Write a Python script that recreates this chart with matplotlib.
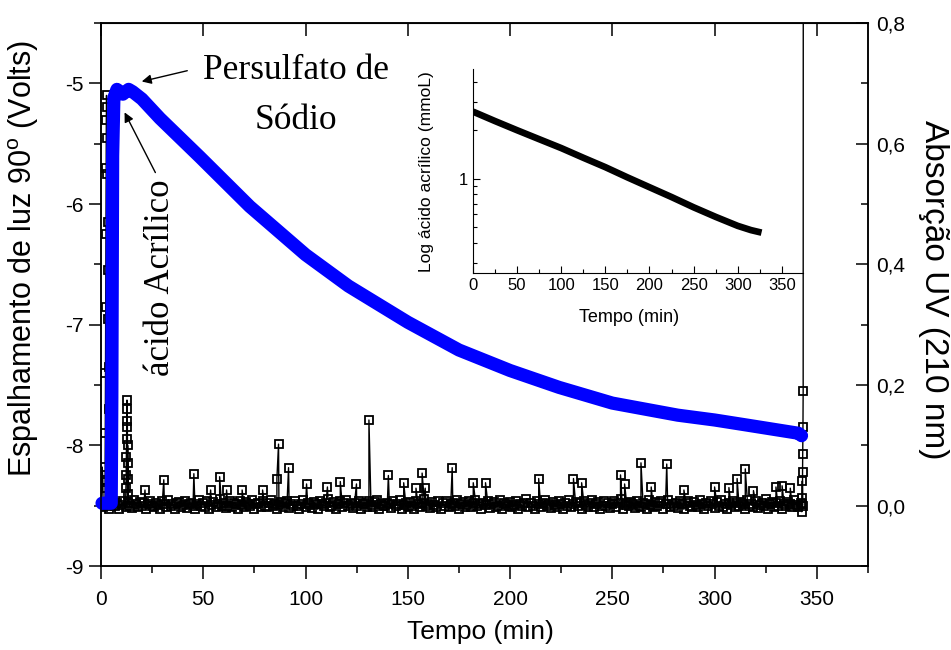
import matplotlib
matplotlib.use("Agg")
import matplotlib.pyplot as plt
import numpy as np
from matplotlib.ticker import MultipleLocator, FixedLocator, NullFormatter, FuncFormatter

plt.rcParams['font.family'] = ['Liberation Sans', 'DejaVu Sans']
plt.rcParams['axes.unicode_minus'] = False
plt.rcParams['mathtext.fontset'] = 'custom'
plt.rcParams['mathtext.rm'] = 'Liberation Sans'

# light scattering 90 deg (left axis, Volts)
blue_t = [0.5, 5.0, 5.3, 5.7, 6.3, 7.8, 10.7, 13.5, 15.5, 20, 28.8, 48.3, 72.7, 100,
          121, 150, 175, 200, 224, 250, 282, 300, 315, 341, 342.5]
blue_v = [-8.48, -8.48, -7.6, -5.6, -5.12, -5.05, -5.09, -5.05, -5.07, -5.13, -5.29,
          -5.61, -6.02, -6.42, -6.68, -6.98, -7.21, -7.38, -7.52, -7.65, -7.75, -7.79,
          -7.83, -7.90, -7.92]

# UV absorption baseline, one reading per minute (x1000)
uv_base_t = np.arange(0, 344)
uv_base_v = np.array([
    3, -2, 6, 0, -5, 2, 8, -1, 4, -6, 1, 7, -3, 5, 0, -4, 9, 2, -2, 6,
    -1, 4, -6, 3, 8, 0, -3, 5, 1, -5, 7, 2, -2, 10, -1, 3, -6, 4, 6, -3,
    1, 8, -4, 2, 5, -1, -6, 3, 9, 0, 4, -2, 7, -5, 1, 6, -3, 2, 11, -1,
    4, -4, 0, 7, -2, 5, 2, -6, 8, 1, -3, 6, 3, -1, 9, -5, 2, 4, -2, 7,
    0, -3, 5, 10, -1, 3, -6, 1, 6, -2, 4, 8, -4, 2, -1, 7, 0, -5, 3, 9,
    -2, 5, 1, -4, 6, 2, -6, 8, 3, -1, 4, 11, -3, 0, 6, -5, 2, 7, -2, 4,
    9, -1, 3, -4, 5, 0, 7, -6, 2, 4, -2, 8, 1, -3, 6, 10, -5, 3, 0, -1,
    5, 2, -4, 7, -1, 3, 9, -6, 1, 4, -2, 6, 0, -5, 8, 2, -3, 5, 11, -1,
    3, -4, 6, 1, -2, 8, -6, 4, 0, 7, -3, 2, 5, -1, 9, -5, 3, 6, -2, 1,
    7, -3, 4, 10, -1, 2, -6, 5, 1, 8, -4, 3, 6, -2, 0, 9, -5, 4, 2, -1,
    6, -3, 1, 8, -5, 3, -1, 5, 11, -2, 4, 0, -6, 7, 2, -3, 5, 9, -1, 3,
    -4, 6, 1, -2, 8, 3, -5, 4, 0, 10, -3, 2, 6, -1, 5, -6, 7, 1, -2, 4,
    9, -3, 2, 6, -5, 0, 8, -1, 4, -4, 3, 7, -2, 5, 11, -6, 1, 4, -1, 6,
    2, -4, 8, 0, -2, 5, 3, -6, 9, 1, -3, 6, -1, 4, 7, -5, 2, 10, -2, 3,
    -1, 5, -4, 7, 2, -6, 4, 8, 0, -3, 6, 1, -2, 9, 3, -5, 5, -1, 7, 2,
    -4, 6, 0, 10, -2, 3, -6, 5, 1, 8, -3, 4, -1, 6, 2, -5, 9, 0, 3, -2,
    7, -4, 1, 5, -1, 11, -6, 3, 6, -2, 4, 0, 8, -5, 2, -1, 6, 3, -3, 9,
    1, -2, 5, 0]) / 1000.0

# UV spikes and injection peaks
uv_peak_t = [0.3, 0.6, 0.9,
             2.0, 2.1, 2.2, 2.3, 2.4, 2.5, 2.6, 2.7, 2.8, 2.9, 3.0, 3.2, 3.4, 3.6, 3.8, 4.0, 4.3, 4.6,
             12.2, 12.3, 12.4, 12.5, 12.6, 12.7, 12.8, 12.9, 13.0, 13.1, 13.2, 13.3,
             21.5, 30.7, 45.4, 53.6, 58, 61.4, 69, 79, 86, 86.8, 91.7, 100.5, 110.7, 117,
             124.9, 131, 140.5, 148, 154, 157, 158.5, 171.7, 182, 188, 214, 231, 235, 254,
             256, 264, 269, 276.6, 285, 300, 307, 311, 315, 319, 330, 333, 337,
             342.6, 342.7, 342.8, 342.9, 343.0, 343.1, 343.2, 343.3, 343.4]
uv_peak_v = [0.03, 0.064, 0.043,
             0.04, 0.12, 0.22, 0.33, 0.45, 0.56, 0.64, 0.68, 0.66, 0.61, 0.55, 0.47, 0.39, 0.31,
             0.23, 0.16, 0.09, 0.03,
             0.03, 0.05, 0.08, 0.11, 0.14, 0.175, 0.16, 0.13, 0.10, 0.07, 0.045, 0.02,
             0.026, 0.043, 0.053, 0.026, 0.048, 0.026, 0.026, 0.026, 0.045, 0.102, 0.063,
             0.036, 0.031, 0.040, 0.036, 0.142, 0.050, 0.038, 0.029, 0.054, 0.029, 0.063,
             0.038, 0.038, 0.045, 0.045, 0.038, 0.051, 0.036, 0.071, 0.031, 0.069, 0.026,
             0.031, 0.030, 0.045, 0.061, 0.025, 0.031, 0.033, 0.029,
             -0.01, 0.002, 0.013, 0.041, 0.055, 0.086, 0.131, 0.19, 1.5]

# inset: log acrylic acid (mmol/L)
ins_t = [0, 25, 50, 75, 100, 125, 150, 175, 200, 225, 250, 275, 300, 315, 327]
ins_v = [2.61, 2.28, 2.0, 1.76, 1.55, 1.35, 1.18, 1.02, 0.886, 0.77, 0.665, 0.58,
         0.51, 0.48, 0.463]

uv_t = np.concatenate([uv_base_t, uv_peak_t])
uv_v = np.concatenate([uv_base_v, uv_peak_v])
order = np.argsort(uv_t, kind='stable')
uv_t = uv_t[order]
uv_v = uv_v[order]

fig = plt.figure(figsize=(9.51, 6.5), dpi=100)
ax = fig.add_axes([101/951, 1-566/650, (868-101)/951, (566-23)/650])
ax2 = ax.twinx()

ax2.plot(uv_t, uv_v, color='k', lw=1.0, marker='s', ms=6.2, mfc='none', mec='k', mew=1.3)
ax2.set_ylim(-0.1, 0.8)
ax2.yaxis.set_major_locator(MultipleLocator(0.2))
ax2.yaxis.set_minor_locator(MultipleLocator(0.1))
ax2.yaxis.set_major_formatter(FuncFormatter(lambda v, p: f"{v:.1f}".replace('.', ',')))
ax2.tick_params(axis='y', which='both', direction='in', labelsize=15, width=1.1, pad=6)
ax2.tick_params(axis='y', which='major', length=9)
ax2.tick_params(axis='y', which='minor', length=5)

ax.set_zorder(ax2.get_zorder() + 1)
ax.patch.set_visible(False)
ax.plot(blue_t, blue_v, color='#0000ff', lw=9.5, solid_capstyle='round',
        solid_joinstyle='round', clip_on=False)
ax.set_xlim(0, 375)
ax.set_ylim(-9, -4.5)
ax.xaxis.set_major_locator(MultipleLocator(50))
ax.xaxis.set_minor_locator(MultipleLocator(25))
ax.yaxis.set_major_locator(MultipleLocator(1))
ax.yaxis.set_minor_locator(MultipleLocator(0.5))
ax.tick_params(axis='both', which='both', direction='out', labelsize=15, width=1.1)
ax.tick_params(axis='both', which='major', length=9)
ax.tick_params(axis='both', which='minor', length=5)
ax.tick_params(axis='x', which='major', pad=8)
for s in ax.spines.values():
    s.set_linewidth(1.1)
for s in ax2.spines.values():
    s.set_linewidth(1.1)

# inward major ticks on top spine
top = ax.secondary_xaxis('top')
top.xaxis.set_major_locator(MultipleLocator(50))
top.tick_params(direction='in', length=9, width=1.1, labeltop=False)

# annotations
ax.text(95.4, -4.89, 'Persulfato de', family='Liberation Serif', fontsize=25.5,
        ha='center', va='center')
ax.text(95.4, -5.31, 'Sódio', family='Liberation Serif', fontsize=25.5,
        ha='center', va='center')
ax.annotate('', xy=(18.6, -4.99), xytext=(43.5, -4.89),
            arrowprops=dict(arrowstyle='-|>', color='k', lw=1, mutation_scale=14))
ax.text(29, -6.61, 'ácido Acrílico', family='Liberation Serif', fontsize=25,
        rotation=90, ha='center', va='center')
ax.annotate('', xy=(10.9, -5.22), xytext=(27.2, -5.76),
            arrowprops=dict(arrowstyle='-|>', color='k', lw=1, mutation_scale=14))

fig.text(24/951, 1-258/650, 'Espalhamento de luz 90$^{\\mathrm{o}}$ (Volts)', fontsize=22,
         rotation=90, ha='center', va='center')
fig.text(934/951, 1-290/650, 'Absorção UV (210 nm)', fontsize=24, rotation=270,
         ha='center', va='center')
fig.text(480/951, 1-632/650, 'Tempo (min)', fontsize=19, ha='center', va='center')

# inset
ins = fig.add_axes([473/951, 1-273/650, (803-473)/951, (273-69)/650])
ins.set_zorder(ax.get_zorder() + 1)
ins.patch.set_visible(False)
ins.plot(ins_t, ins_v, color='k', lw=4.8, solid_capstyle='butt')
ins.set_yscale('log')
ins.set_xlim(0, 374)
ins.set_ylim(0.26, 4.8)
ins.spines['top'].set_visible(False)
ins.spines['right'].set_visible(False)
ins.xaxis.set_major_locator(MultipleLocator(50))
ins.xaxis.set_minor_locator(MultipleLocator(25))
ins.yaxis.set_major_locator(FixedLocator([1]))
ins.yaxis.set_major_formatter(FuncFormatter(lambda v, p: '1'))
ins.yaxis.set_minor_locator(FixedLocator([0.3, 0.4, 0.5, 0.6, 0.7, 0.8, 0.9, 2, 3, 4]))
ins.yaxis.set_minor_formatter(NullFormatter())
ins.tick_params(axis='both', which='both', direction='in', labelsize=12, width=0.8)
ins.tick_params(axis='both', which='major', length=5)
ins.tick_params(axis='both', which='minor', length=3)
fig.text(629/951, 1-318/650, 'Tempo (min)', fontsize=13, ha='center', va='center')
fig.text(427/951, 1-172/650, 'Log ácido acrílico (mmoL)', fontsize=12.5, rotation=90,
         ha='center', va='center')

fig.savefig('out.png', dpi=100)
